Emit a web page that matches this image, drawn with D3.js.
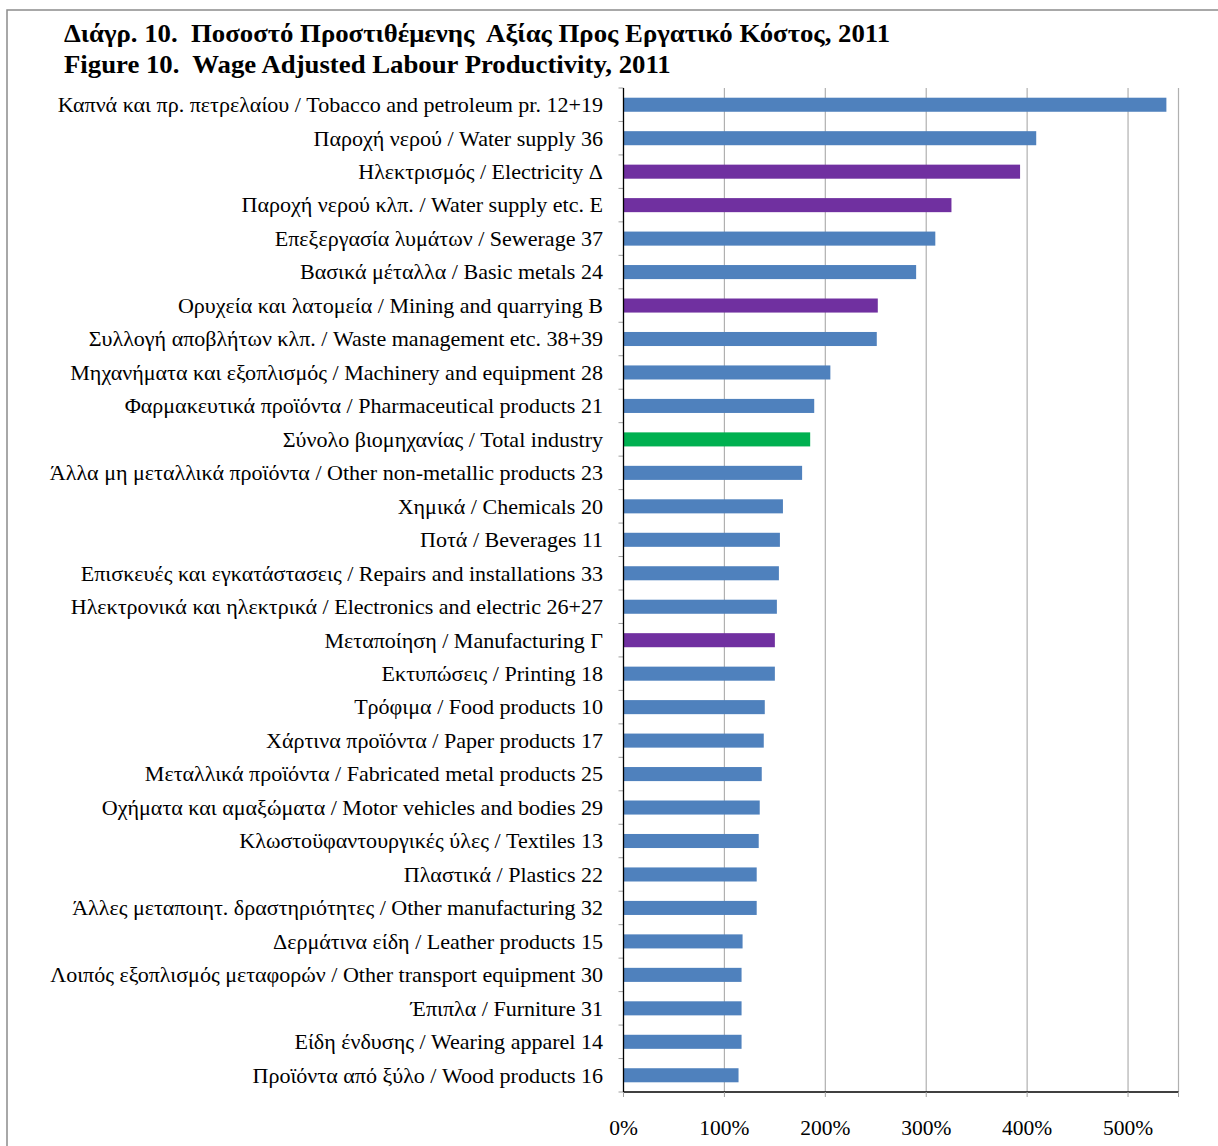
<!DOCTYPE html>
<html><head><meta charset="utf-8">
<script src="https://cdn.jsdelivr.net/npm/d3@7"></script>
<style>
html,body{margin:0;padding:0;background:#fff;}
svg text{font-family:"Liberation Serif","Times New Roman",serif;}
</style></head>
<body>
<svg id="chart" width="1218" height="1146"></svg>
<script>
const titleLines = [
  "Διάγρ. 10.  Ποσοστό Προστιθέμενης  Αξίας Προς Εργατικό Κόστος, 2011",
  "Figure 10.  Wage Adjusted Labour Productivity, 2011"
];
const categories = [
  "Καπνά και πρ. πετρελαίου / Tobacco and petroleum pr. 12+19",
  "Παροχή νερού / Water supply 36",
  "Ηλεκτρισμός / Electricity Δ",
  "Παροχή νερού κλπ. / Water supply etc. Ε",
  "Επεξεργασία λυμάτων / Sewerage 37",
  "Βασικά μέταλλα / Basic metals 24",
  "Ορυχεία και λατομεία / Mining and quarrying Β",
  "Συλλογή αποβλήτων κλπ. / Waste management etc. 38+39",
  "Μηχανήματα και εξοπλισμός / Machinery and equipment 28",
  "Φαρμακευτικά προϊόντα / Pharmaceutical products 21",
  "Σύνολο βιομηχανίας / Total industry",
  "Άλλα μη μεταλλικά προϊόντα / Other non-metallic products 23",
  "Χημικά / Chemicals 20",
  "Ποτά / Beverages 11",
  "Επισκευές και εγκατάστασεις / Repairs and installations 33",
  "Ηλεκτρονικά και ηλεκτρικά / Electronics and electric 26+27",
  "Μεταποίηση / Manufacturing Γ",
  "Εκτυπώσεις / Printing 18",
  "Τρόφιμα / Food products 10",
  "Χάρτινα προϊόντα / Paper products 17",
  "Μεταλλικά προϊόντα / Fabricated metal products 25",
  "Οχήματα και αμαξώματα / Motor vehicles and bodies 29",
  "Κλωστοϋφαντουργικές ύλες / Textiles 13",
  "Πλαστικά / Plastics 22",
  "Άλλες μεταποιητ. δραστηριότητες / Other manufacturing 32",
  "Δερμάτινα είδη / Leather products 15",
  "Λοιπός εξοπλισμός μεταφορών / Other transport equipment 30",
  "Έπιπλα / Furniture 31",
  "Είδη ένδυσης / Wearing apparel 14",
  "Προϊόντα από ξύλο / Wood products 16"
];
const values = [538, 409, 393, 325, 309, 290, 252, 251, 205, 189, 185, 177, 158, 155, 154, 152, 150, 150,
                140, 139, 137, 135, 134, 132, 132, 118, 117, 117, 117, 114];
// group: 0 = branch, 1 = section, 2 = total
const groups = [0,0,1,1,0,0,1,0,0,0,2,0,0,0,0,0,1,0,0,0,0,0,0,0,0,0,0,0,0,0];
const groupColors = ["#4F81BD", "#7030A0", "#00B050"];
const xTicks = [0, 100, 200, 300, 400, 500];
const xMax = 550;

const svg = d3.select("#chart");
// outer frame
svg.append("rect").attr("x", 7).attr("y", 10).attr("width", 1230).attr("height", 1160)
  .attr("fill", "none").attr("stroke", "#8c8c8c").attr("stroke-width", 1.5);

// title
svg.selectAll("text.title").data(titleLines).join("text")
  .attr("class", "title")
  .attr("transform", (d, i) => `translate(64,${42 + i * 31}) scale(1.05,1)`)
  .attr("font-size", 25.5).attr("font-weight", "bold")
  .style("white-space", "pre")
  .text(d => d);

const pLeft = 623.5, pRight = 1178.5, pTop = 88, pBottom = 1092;
const x = d3.scaleLinear().domain([0, xMax]).range([pLeft, pRight]);
const y = d3.scaleBand().domain(categories).range([pTop, pBottom]).paddingInner(0.58).paddingOuter(0.29);

// gridlines
svg.append("g").selectAll("line").data(xTicks.slice(1).concat([xMax])).join("line")
  .attr("x1", d => x(d)).attr("x2", d => x(d)).attr("y1", pTop).attr("y2", pBottom)
  .attr("stroke", "#b0b0b0").attr("stroke-width", 1.2);

// bars
svg.append("g").selectAll("rect").data(categories).join("rect")
  .attr("x", x(0)).attr("y", d => y(d))
  .attr("width", (d, i) => x(values[i]) - x(0))
  .attr("height", y.bandwidth())
  .attr("fill", (d, i) => groupColors[groups[i]]);

// left axis with ticks at band boundaries
const yBound = d3.scaleLinear().domain([0, categories.length]).range([pTop, pBottom]);
const gy = svg.append("g");
gy.selectAll("line.tk").data(d3.range(categories.length + 1)).join("line")
  .attr("x1", pLeft - 5).attr("x2", pLeft).attr("y1", d => yBound(d)).attr("y2", d => yBound(d))
  .attr("stroke", "#a0a0a0").attr("stroke-width", 1);
gy.append("line").attr("x1", pLeft).attr("x2", pLeft).attr("y1", pTop).attr("y2", pBottom)
  .attr("stroke", "#000").attr("stroke-width", 1.3);
gy.selectAll("text").data(categories).join("text")
  .attr("transform", d => `translate(603,${y(d) + y.bandwidth() / 2}) scale(1.05,1)`)
  .attr("dy", "0.35em").attr("text-anchor", "end")
  .attr("font-size", 21).attr("fill", "#000")
  .text(d => d);

// bottom axis
const gx = svg.append("g").attr("transform", `translate(0,${pBottom})`);
gx.append("line").attr("x1", pLeft).attr("x2", pRight).attr("stroke", "#000").attr("stroke-width", 1.3);
gx.selectAll("line.tk").data(xTicks.concat([xMax])).join("line")
  .attr("x1", d => x(d)).attr("x2", d => x(d)).attr("y1", 0).attr("y2", 5)
  .attr("stroke", "#a0a0a0");
gx.selectAll("text").data(xTicks).join("text")
  .attr("transform", d => `translate(${x(d)},36) scale(1.05,1)`)
  .attr("dy", "0.35em")
  .attr("text-anchor", "middle").attr("font-size", 20.5)
  .text(d => d + "%");
</script>
</body></html>
